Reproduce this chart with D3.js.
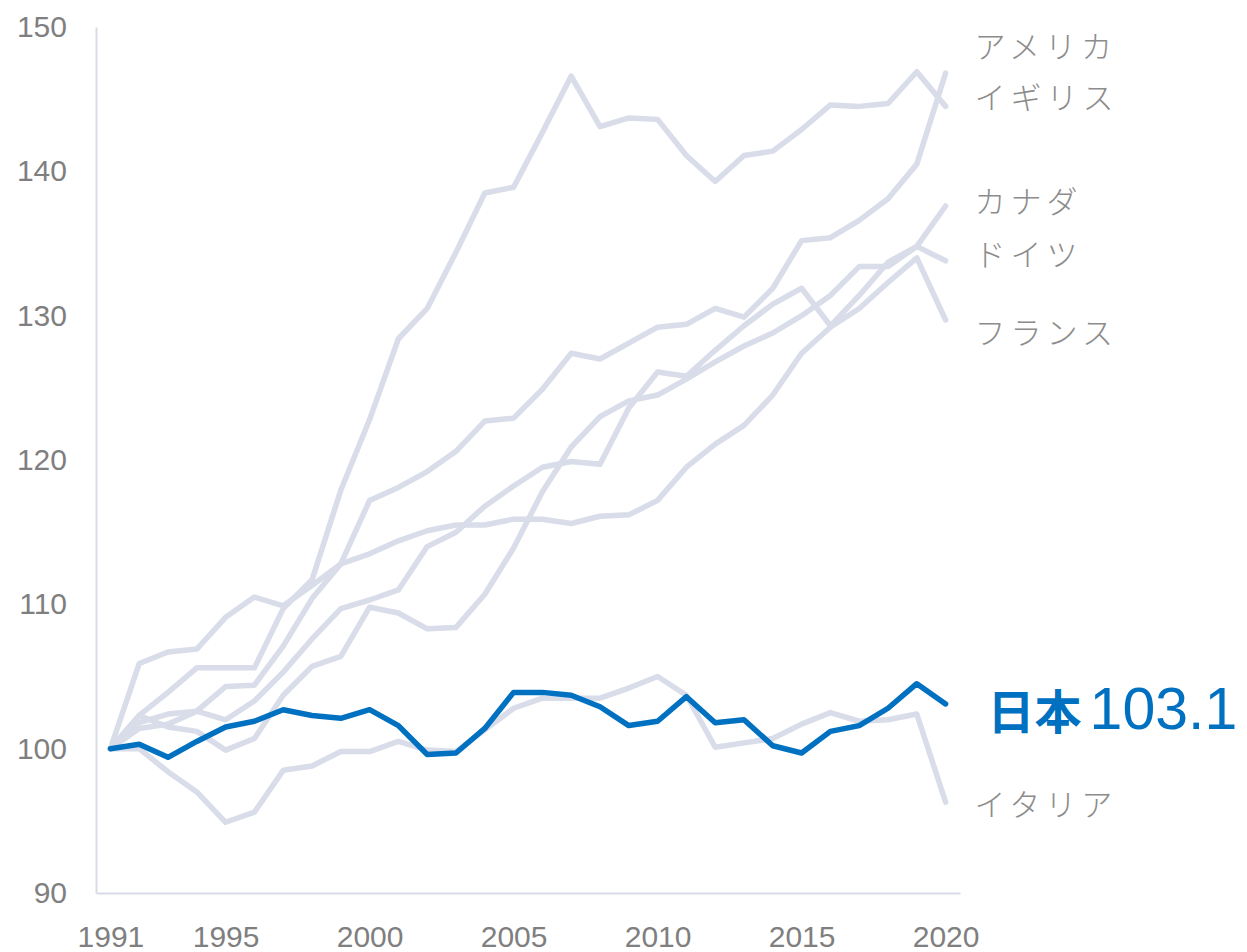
<!DOCTYPE html>
<html>
<head>
<meta charset="utf-8">
<script src="https://cdn.jsdelivr.net/npm/d3@7"></script>
<style>
  body { margin: 0; background: #fff; }
  svg text { font-family: "Liberation Sans", Arial, sans-serif; }
  .tick text { fill: #7f7f7f; font-size: 30px; }
  .country { fill: #8c8c8c; font-family: "Noto Sans CJK JP", sans-serif; font-size: 31px; font-weight: 300; letter-spacing: 5px; }
</style>
</head>
<body>
<div id="chart"></div>
<script>
// years and index values (1991 = 100)
var years = d3.range(1991, 2021);
var yTicks = [90, 100, 110, 120, 130, 140, 150];
var xTickLabels = [1991, 1995, 2000, 2005, 2010, 2015, 2020];

var usa     = [100, 101.4, 101.7, 102.6, 104.3, 104.4, 107.1, 110.4, 112.8, 117.2, 118.1, 119.2, 120.6, 122.7, 122.9, 124.9, 127.4, 127.0, 128.1, 129.2, 129.4, 130.5, 129.9, 131.9, 135.2, 135.4, 136.6, 138.1, 140.5, 146.8];
var uk      = [100, 102.3, 103.9, 105.6, 105.6, 105.6, 109.7, 111.7, 117.9, 122.8, 128.4, 130.5, 134.4, 138.5, 138.9, 142.7, 146.6, 143.1, 143.7, 143.6, 141.1, 139.3, 141.1, 141.4, 142.9, 144.6, 144.5, 144.7, 146.9, 144.5];
var canada  = [100, 102.3, 101.5, 101.2, 99.9, 100.7, 103.7, 105.7, 106.4, 109.8, 109.4, 108.3, 108.4, 110.7, 113.9, 117.8, 120.9, 123.0, 124.1, 124.5, 125.6, 126.8, 127.9, 128.8, 130.0, 131.4, 133.4, 133.4, 134.8, 137.6];
var germany = [100, 101.8, 102.4, 102.6, 102.0, 103.3, 105.3, 107.6, 109.7, 110.3, 111.0, 114.0, 115.0, 116.8, 118.2, 119.5, 119.9, 119.7, 123.6, 126.1, 125.8, 127.6, 129.3, 130.8, 131.9, 129.3, 131.4, 133.7, 134.8, 133.8];
var france  = [100, 105.9, 106.7, 106.9, 109.1, 110.5, 109.9, 111.3, 112.8, 113.5, 114.4, 115.1, 115.5, 115.5, 115.9, 115.9, 115.6, 116.1, 116.2, 117.2, 119.5, 121.1, 122.4, 124.5, 127.4, 129.2, 130.5, 132.3, 134.0, 129.7];
var italy   = [100, 100.0, 98.4, 97.0, 94.9, 95.6, 98.5, 98.8, 99.8, 99.8, 100.5, 99.9, 99.8, 101.3, 102.8, 103.5, 103.5, 103.5, 104.2, 105.0, 103.7, 100.1, 100.4, 100.7, 101.7, 102.5, 101.9, 102.0, 102.4, 96.3];
var japan   = [100, 100.3, 99.4, 100.5, 101.5, 101.9, 102.7, 102.3, 102.1, 102.7, 101.6, 99.6, 99.7, 101.4, 103.9, 103.9, 103.7, 102.9, 101.6, 101.9, 103.6, 101.8, 102.0, 100.2, 99.7, 101.2, 101.6, 102.8, 104.5, 103.1];

var grayNames = ["アメリカ", "イギリス", "カナダ", "ドイツ", "フランス", "イタリア"];
var grayValues = [usa, uk, canada, germany, france, italy];
// label positions in data units (value axis)
var labelAt = [148.6, 145.1, 137.9, 134.2, 128.8, 96.1];

var width = 1247, height = 952;
var margin = {top: 27, right: 287, bottom: 59, left: 96};

var x = d3.scalePoint()
    .domain(years)
    .range([margin.left, width - margin.right])
    .padding(0.5);

var y = d3.scaleLinear()
    .domain([90, 150])
    .range([height - margin.bottom, margin.top]);

var svg = d3.select("#chart")
    .append("svg")
    .attr("width", width)
    .attr("height", height);

var yAxis = d3.axisLeft(y)
    .tickValues(yTicks)
    .tickSize(0)
    .tickPadding(29);

var xAxis = d3.axisBottom(x)
    .tickValues(xTickLabels)
    .tickSize(0)
    .tickPadding(33);

svg.append("g")
    .attr("class", "y axis")
    .attr("transform", "translate(" + margin.left + ",0)")
    .call(yAxis);

svg.append("g")
    .attr("class", "x axis")
    .attr("transform", "translate(0," + (height - margin.bottom) + ")")
    .call(xAxis);

svg.selectAll(".axis path.domain")
    .attr("stroke", "#d9dce8")
    .attr("stroke-width", 2);

var line = d3.line()
    .x(function (d, i) { return x(years[i]); })
    .y(function (d) { return y(d); });

svg.selectAll(".grayLine")
    .data(grayValues)
    .enter()
    .append("path")
    .attr("class", "grayLine")
    .attr("d", line)
    .attr("fill", "none")
    .attr("stroke", "#d9dce9")
    .attr("stroke-width", 5.5)
    .attr("stroke-linejoin", "round")
    .attr("stroke-linecap", "round");

svg.append("path")
    .attr("d", line(japan))
    .attr("fill", "none")
    .attr("stroke", "#0070c0")
    .attr("stroke-width", 5.5)
    .attr("stroke-linejoin", "round")
    .attr("stroke-linecap", "round");

var labelX = x(2020) + 29;

svg.selectAll(".country")
    .data(grayNames)
    .enter()
    .append("text")
    .attr("class", "country")
    .attr("x", labelX)
    .attr("y", function (d, i) { return y(labelAt[i]); })
    .attr("dy", "0.36em")
    .text(function (d) { return d; });

var jp = svg.append("text")
    .attr("x", labelX + 13)
    .attr("y", 729)
    .attr("fill", "#0070c0");

jp.append("tspan")
    .style("font-family", "'Noto Sans CJK JP', sans-serif")
    .style("font-weight", "bold")
    .style("font-size", "47px")
    .text("日本");

jp.append("tspan")
    .attr("dx", 8)
    .style("font-size", "59px")
    .text(japan[japan.length - 1].toFixed(1));
</script>
</body>
</html>
